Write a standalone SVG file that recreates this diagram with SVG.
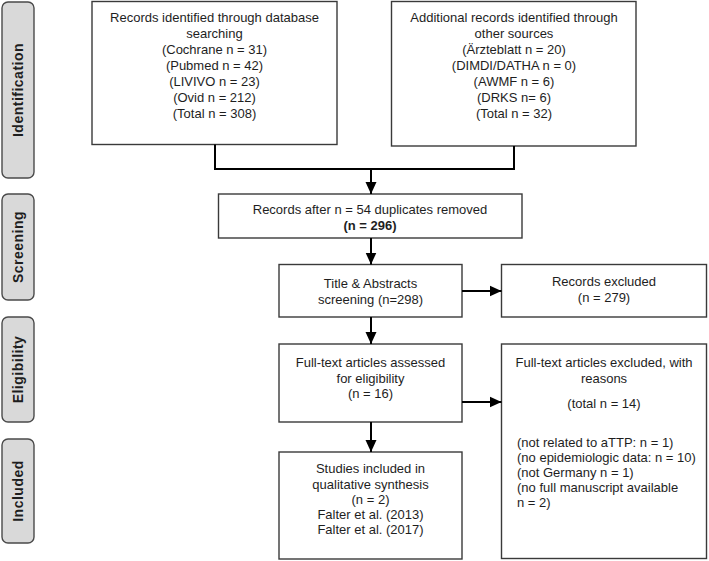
<svg xmlns="http://www.w3.org/2000/svg" width="709" height="561" viewBox="0 0 709 561">
<style>
.bx{fill:#fff;stroke:#3a3a3a;stroke-width:1.4}
.lb{fill:#d9d9d9;stroke:#4a4a4a;stroke-width:1.4}
.t{font-family:"Liberation Sans",Arial,sans-serif;font-size:13px;fill:#1e1e1e;text-anchor:middle}
.tl{font-family:"Liberation Sans",Arial,sans-serif;font-size:13px;fill:#1e1e1e}
.s{font-family:"Liberation Sans",Arial,sans-serif;font-size:14px;font-weight:bold;fill:#1e1e1e;text-anchor:middle;letter-spacing:0.5px}
.c{fill:none;stroke:#000;stroke-width:2}
</style>
<defs>
<marker id="ah" markerUnits="userSpaceOnUse" markerWidth="12" markerHeight="12" refX="12" refY="6" orient="auto">
<path d="M0,0.5 L12,6 L0,11.5 z" fill="#000"/>
</marker>
</defs>
<g id="label-identification"><rect class="lb" x="2" y="2" width="32" height="176" rx="6"/><text class="s" transform="translate(23,90) rotate(-90)">Identification</text></g>
<g id="label-screening"><rect class="lb" x="2" y="194" width="32" height="106" rx="6"/><text class="s" transform="translate(23,247) rotate(-90)">Screening</text></g>
<g id="label-eligibility"><rect class="lb" x="2" y="317" width="32" height="105" rx="6"/><text class="s" transform="translate(23,369.5) rotate(-90)">Eligibility</text></g>
<g id="label-included"><rect class="lb" x="2" y="439" width="32" height="104" rx="6"/><text class="s" transform="translate(23,491) rotate(-90)">Included</text></g>

<g id="db"><rect class="bx" x="92" y="1.5" width="245" height="143"/>
<text class="t" x="214.5" y="21.5">Records identified through database</text>
<text class="t" x="214.5" y="37.5">searching</text>
<text class="t" x="214.5" y="53.5">(Cochrane n = 31)</text>
<text class="t" x="214.5" y="69.5">(Pubmed n = 42)</text>
<text class="t" x="214.5" y="85.5">(LIVIVO n = 23)</text>
<text class="t" x="214.5" y="101.5">(Ovid n = 212)</text>
<text class="t" x="214.5" y="117.5">(Total n = 308)</text></g>

<g id="other"><rect class="bx" x="391.5" y="1.5" width="244.5" height="144.5"/>
<text class="t" x="514" y="21.5">Additional records identified through</text>
<text class="t" x="514" y="37.5">other sources</text>
<text class="t" x="514" y="53.5">(Ärzteblatt n = 20)</text>
<text class="t" x="514" y="69.5">(DIMDI/DATHA n = 0)</text>
<text class="t" x="514" y="85.5">(AWMF n = 6)</text>
<text class="t" x="514" y="101.5">(DRKS n= 6)</text>
<text class="t" x="514" y="117.5">(Total n = 32)</text></g>

<g id="dedup"><rect class="bx" x="218.5" y="194" width="303.5" height="44"/>
<text class="t" x="370" y="214">Records after n = 54 duplicates removed</text>
<text class="t" x="370" y="230" font-weight="bold">(n = 296)</text></g>

<g id="screen"><rect class="bx" x="279" y="264.5" width="183" height="52.5"/>
<text class="t" x="370.5" y="288">Title &amp; Abstracts</text>
<text class="t" x="370.5" y="304">screening (n=298)</text></g>

<g id="excl1"><rect class="bx" x="501.5" y="264.5" width="205" height="52.5"/>
<text class="t" x="604" y="286">Records excluded</text>
<text class="t" x="604" y="302">(n = 279)</text></g>

<g id="fulltext"><rect class="bx" x="279" y="344" width="183" height="78"/>
<text class="t" x="370.5" y="367">Full-text articles assessed</text>
<text class="t" x="370.5" y="382.5">for eligibility</text>
<text class="t" x="370.5" y="398">(n = 16)</text></g>

<g id="excl2"><rect class="bx" x="501.5" y="344" width="205" height="214.5"/>
<text class="t" x="604" y="367">Full-text articles excluded, with</text>
<text class="t" x="604" y="382.5">reasons</text>
<text class="t" x="604" y="407.5">(total n = 14)</text>
<text class="tl" x="517" y="446.5">(not related to aTTP:  n = 1)</text>
<text class="tl" x="517" y="461.5">(no epidemiologic data: n = 10)</text>
<text class="tl" x="517" y="476.5">(not Germany n = 1)</text>
<text class="tl" x="517" y="491.5">(no full manuscript available</text>
<text class="tl" x="517" y="506.5">n = 2)</text></g>

<g id="included"><rect class="bx" x="279" y="452" width="183" height="107"/>
<text class="t" x="370.5" y="473">Studies included in</text>
<text class="t" x="370.5" y="488.5">qualitative synthesis</text>
<text class="t" x="370.5" y="504">(n = 2)</text>
<text class="t" x="370.5" y="519">Falter et al. (2013)</text>
<text class="t" x="370.5" y="534">Falter et al. (2017)</text></g>

<g id="connectors">
<polyline class="c" points="215,144.5 215,169 514,169 514,146"/>
<line class="c" x1="371" y1="169" x2="371" y2="194" marker-end="url(#ah)"/>
<line class="c" x1="371" y1="238" x2="371" y2="264.5" marker-end="url(#ah)"/>
<line class="c" x1="371" y1="317" x2="371" y2="344" marker-end="url(#ah)"/>
<line class="c" x1="371" y1="422" x2="371" y2="452" marker-end="url(#ah)"/>
<line class="c" x1="462" y1="291" x2="501.5" y2="291" marker-end="url(#ah)"/>
<line class="c" x1="462" y1="402" x2="501.5" y2="402" marker-end="url(#ah)"/>
</g>
</svg>
